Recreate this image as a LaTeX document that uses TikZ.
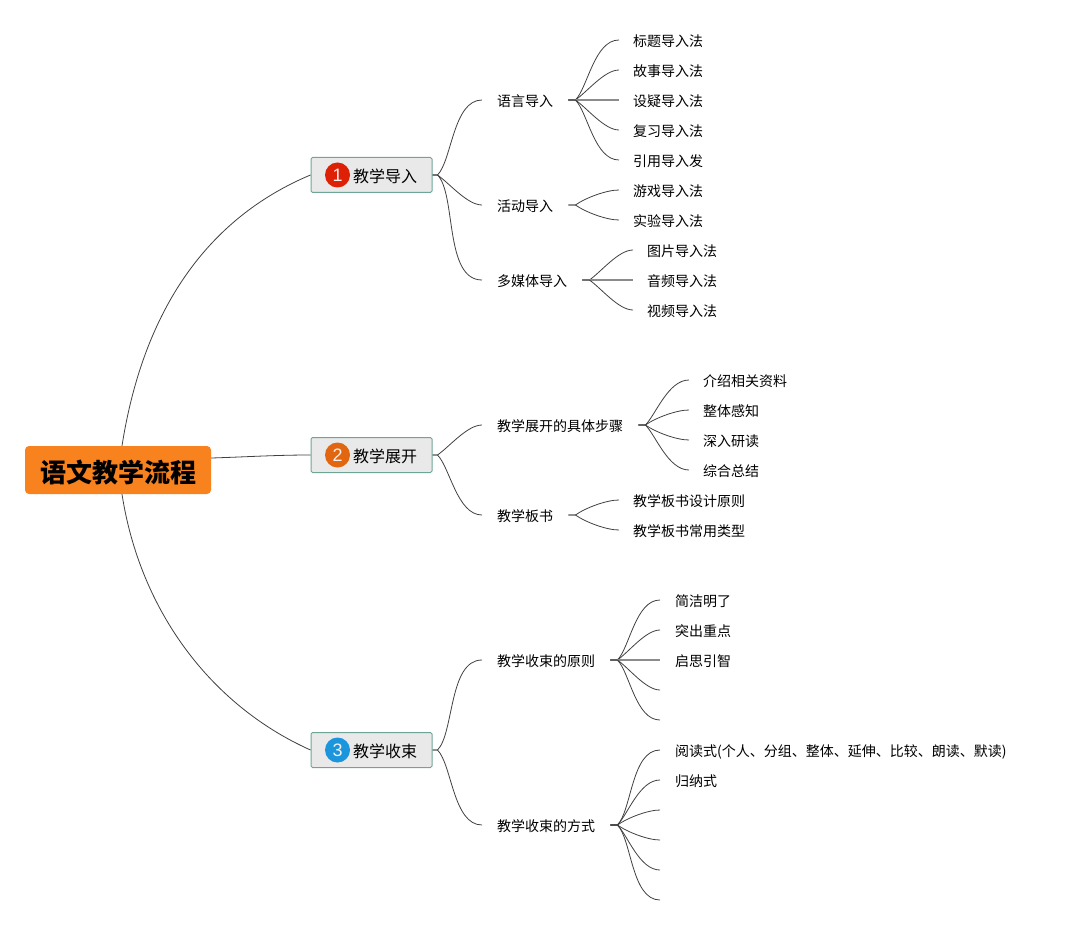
\documentclass[tikz,border=0pt]{standalone}
\usepackage{fontspec}
\setmainfont{Noto Sans CJK SC}
\setsansfont{Liberation Sans}
\usetikzlibrary{positioning}

\definecolor{rootorange}{HTML}{F8821E}
\definecolor{boxgray}{HTML}{E8E9E8}
\definecolor{boxteal}{HTML}{6FA597}
\definecolor{linegray}{HTML}{404040}
\definecolor{badgered}{HTML}{DD2006}
\definecolor{badgeorange}{HTML}{E2660F}
\definecolor{badgeblue}{HTML}{1B96DC}

\begin{document}
\begin{tikzpicture}[
		x=1pt, y=-1pt,
		% Styles
		rootbox/.style={fill=rootorange, rounded corners=4pt, minimum width=186pt, minimum height=48pt, inner sep=0pt, text height=24pt, text depth=0pt, font=\fontsize{26}{30}\selectfont\bfseries},
		topicbox/.style={draw=boxteal, fill=boxgray, line width=1pt, rounded corners=1.5pt, minimum width=121pt, minimum height=35pt, inner sep=0pt, text height=15pt, text depth=0pt, font=\fontsize{16}{20}\selectfont},
		badge/.style={circle, minimum size=25pt, inner sep=0pt, text=white!90!gray, font=\fontsize{18}{20}\selectfont\sffamily},
		subnode/.style={anchor=west, inner xsep=15pt, inner ysep=2pt, text height=13.5pt, text depth=0pt, font=\fontsize{14}{18}\selectfont},
		leafnode/.style={anchor=west, inner xsep=14pt, inner ysep=2pt, text height=13.5pt, text depth=0pt, font=\fontsize{14}{18}\selectfont},
		link/.style={draw=linegray, line width=0.8pt},
		flat/.style={draw=linegray!60, line width=1.3pt},
		rise/.style={out=45, in=180, out looseness=.6, in looseness=.85},
		fall/.style={out=-45, in=180, out looseness=.6, in looseness=.85},
		lift/.style={out=35, in=180, out looseness=.7, in looseness=.7},
		drop/.style={out=-35, in=180, out looseness=.7, in looseness=.7}
		]
		\useasboundingbox (0,0) rectangle (1067,925);
		
		% =========================================================
		% 1. ROOT AND TOPICS
		% =========================================================
		\node[rootbox] (Root) at (118,470) {语文教学流程};
		
		\node[topicbox] (T1) at (371.5,175) {\hspace*{27pt}教学导入};
		\node[badge, fill=badgered] (B1) at ([xshift=27pt]T1.west) {1};
		
		\node[topicbox] (T2) at (371.5,455) {\hspace*{27pt}教学展开};
		\node[badge, fill=badgeorange] (B2) at ([xshift=27pt]T2.west) {2};
		
		\node[topicbox] (T3) at (371.5,750) {\hspace*{27pt}教学收束};
		\node[badge, fill=badgeblue] (B3) at ([xshift=27pt]T3.west) {3};
		
		\draw[link] ([xshift=4pt]Root.north) .. controls (145,300) and (215,215) .. (T1.west);
		\draw[link] ([yshift=12pt]Root.east) .. controls (245,457) and (275,455) .. (T2.west);
		\draw[link] ([xshift=4pt]Root.south) .. controls (140,610) and (210,705) .. (T3.west);
		
		% =========================================================
		% 2. FIRST TOPIC
		% =========================================================
		\node[subnode] (S1) at (482,100) {语言导入};
		\node[subnode] (S2) at (482,205) {活动导入};
		\node[subnode] (S3) at (482,280) {多媒体导入};
		
		\node[leafnode] (L11) at (619,40) {标题导入法};
		\node[leafnode] (L12) at (619,70) {故事导入法};
		\node[leafnode] (L13) at (619,100) {设疑导入法};
		\node[leafnode] (L14) at (619,130) {复习导入法};
		\node[leafnode] (L15) at (619,160) {引用导入发};
		\node[leafnode] (L21) at (619,190) {游戏导入法};
		\node[leafnode] (L22) at (619,220) {实验导入法};
		\node[leafnode] (L31) at (633,250) {图片导入法};
		\node[leafnode] (L32) at (633,280) {音频导入法};
		\node[leafnode] (L33) at (633,310) {视频导入法};
		
		\draw[link] (T1.east) -- ++(5,0) to[rise] (S1.west);
		\draw[link] (T1.east) -- ++(5,0) to[drop] (S2.west);
		\draw[link] (T1.east) -- ++(5,0) to[fall] (S3.west);
		
		\draw[link] (S1.east) -- ++(7,0) to[rise] (L11.west);
		\draw[link] (S1.east) -- ++(7,0) to[lift] (L12.west);
		\draw[flat] (S1.east) -- (L13.west);
		\draw[link] (S1.east) -- ++(7,0) to[drop] (L14.west);
		\draw[link] (S1.east) -- ++(7,0) to[fall] (L15.west);
		\draw[link] (S2.east) -- ++(7,0) to[lift] (L21.west);
		\draw[link] (S2.east) -- ++(7,0) to[drop] (L22.west);
		\draw[link] (S3.east) -- ++(7,0) to[lift] (L31.west);
		\draw[flat] (S3.east) -- (L32.west);
		\draw[link] (S3.east) -- ++(7,0) to[drop] (L33.west);
		
		% =========================================================
		% 3. SECOND TOPIC
		% =========================================================
		\node[subnode] (S4) at (482,425) {教学展开的具体步骤};
		\node[subnode] (S5) at (482,515) {教学板书};
		
		\node[leafnode] (L41) at (689,380) {介绍相关资料};
		\node[leafnode] (L42) at (689,410) {整体感知};
		\node[leafnode] (L43) at (689,440) {深入研读};
		\node[leafnode] (L44) at (689,470) {综合总结};
		\node[leafnode] (L51) at (619,500) {教学板书设计原则};
		\node[leafnode] (L52) at (619,530) {教学板书常用类型};
		
		\draw[link] (T2.east) -- ++(5,0) to[lift] (S4.west);
		\draw[link] (T2.east) -- ++(5,0) to[fall] (S5.west);
		
		\draw[link] (S4.east) -- ++(7,0) to[rise] (L41.west);
		\draw[link] (S4.east) -- ++(7,0) to[lift] (L42.west);
		\draw[link] (S4.east) -- ++(7,0) to[drop] (L43.west);
		\draw[link] (S4.east) -- ++(7,0) to[fall] (L44.west);
		\draw[link] (S5.east) -- ++(7,0) to[lift] (L51.west);
		\draw[link] (S5.east) -- ++(7,0) to[drop] (L52.west);
		
		% =========================================================
		% 4. THIRD TOPIC
		% =========================================================
		\node[subnode] (S6) at (482,660) {教学收束的原则};
		\node[subnode] (S7) at (482,825) {教学收束的方式};
		
		\node[leafnode] (L61) at (660,600) {\hspace*{1pt}简洁明了};
		\node[leafnode] (L62) at (660,630) {\hspace*{1pt}突出重点};
		\node[leafnode] (L63) at (660,660) {\hspace*{1pt}启思引智};
		\coordinate (L64) at (660,690);
		\coordinate (L65) at (660,720);
		\node[leafnode] (L71) at (660,750) {\hspace*{1pt}阅读式(个人、分组、整体、延伸、比较、朗读、默读)};
		\node[leafnode] (L72) at (660,780) {\hspace*{1pt}归纳式};
		\coordinate (L73) at (660,810);
		\coordinate (L74) at (660,840);
		\coordinate (L75) at (660,870);
		\coordinate (L76) at (660,900);
		
		\draw[link] (T3.east) -- ++(5,0) to[rise] (S6.west);
		\draw[link] (T3.east) -- ++(5,0) to[fall] (S7.west);
		
		\draw[link] (S6.east) -- ++(7,0) to[rise] (L61.west);
		\draw[link] (S6.east) -- ++(7,0) to[lift] (L62.west);
		\draw[flat] (S6.east) -- (L63.west);
		\draw[link] (S6.east) -- ++(7,0) to[drop] (L64);
		\draw[link] (S6.east) -- ++(7,0) to[fall] (L65);
		\draw[link] (S7.east) -- ++(7,0) to[rise] (L71.west);
		\draw[link] (S7.east) -- ++(7,0) to[rise] (L72.west);
		\draw[link] (S7.east) -- ++(7,0) to[lift] (L73);
		\draw[link] (S7.east) -- ++(7,0) to[drop] (L74);
		\draw[link] (S7.east) -- ++(7,0) to[fall] (L75);
		\draw[link] (S7.east) -- ++(7,0) to[fall] (L76);
		
	\end{tikzpicture}
\end{document}
